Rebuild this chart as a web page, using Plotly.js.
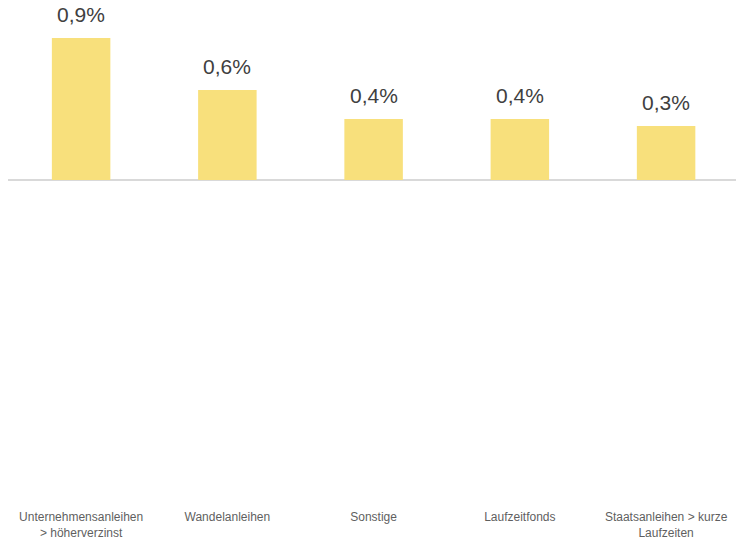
<!DOCTYPE html>
<html>
<head>
<meta charset="utf-8">
<script src="https://cdn.plot.ly/plotly-3.0.1.min.js"></script>
<style>html,body{margin:0;padding:0;background:#fff;}#chart{width:736px;height:540px;}</style>
</head>
<body>
<div id="chart"></div>
<script>
var categories = ["Unternehmensanleihen<br>> höherverzinst", "Wandelanleihen", "Sonstige", "Laufzeitfonds", "Staatsanleihen > kurze<br>Laufzeiten"];
var values = [0.9, 0.57, 0.387, 0.387, 0.342];
var labels = values.map(function(v){ return v.toFixed(1).replace('.', ',') + '%'; });

var trace = {
  type: 'bar',
  x: categories,
  y: values,
  marker: {color: '#F8E07C'},
  hoverinfo: 'skip'
};

var annotations = categories.map(function(c, i){
  return {
    x: c, y: values[i], xref: 'x', yref: 'y',
    text: labels[i], showarrow: false,
    yanchor: 'bottom', yshift: 10,
    font: {family: 'Liberation Sans, Arial, sans-serif', size: 21, color: '#404040'}
  };
});

var layout = {
  width: 736, height: 540,
  margin: {l: 8, r: 0, t: 30, b: 32},
  paper_bgcolor: '#ffffff', plot_bgcolor: '#ffffff',
  showlegend: false,
  bargap: 0.6,
  font: {family: 'Liberation Sans, Arial, sans-serif', size: 12, color: '#5f5f5f'},
  xaxis: {
    type: 'category',
    range: [-0.5, 4.478],
    showgrid: false, showline: false, zeroline: false,
    ticks: '', tickfont: {size: 12, color: '#5f5f5f'}
  },
  yaxis: {
    range: [-2.0786, 0.9506],
    showgrid: false, showline: false, showticklabels: false, ticks: '',
    zeroline: true, zerolinecolor: '#d9d9d9', zerolinewidth: 2
  },
  annotations: annotations
};

Plotly.newPlot('chart', [trace], layout, {displayModeBar: false, staticPlot: true});
</script>
</body>
</html>
